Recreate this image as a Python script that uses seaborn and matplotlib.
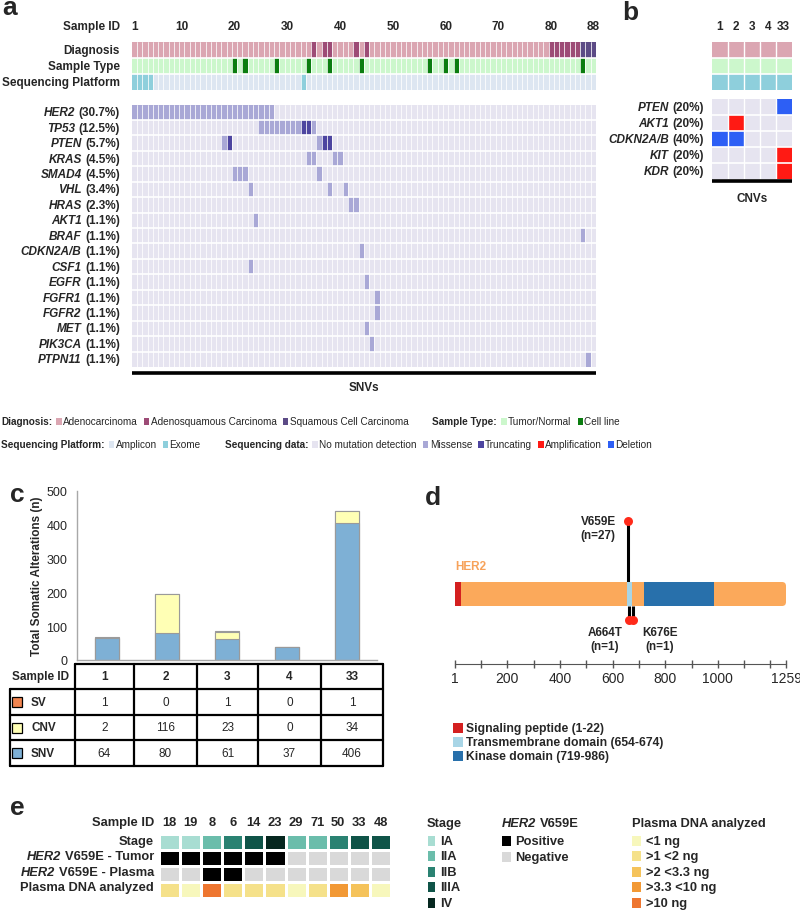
import numpy as np
import pandas as pd
import seaborn as sns
import matplotlib.pyplot as plt
from matplotlib.colors import ListedColormap
from matplotlib.patches import Rectangle, FancyBboxPatch

# ---------------- data: panel a (SNVs, 88 samples) ----------------
n_samples = 88
id_ticks = [1, 10, 20, 30, 40, 50, 60, 70, 80, 88]
adenosquamous = [35, 37, 38, 43, 45, 80, 81, 82, 83, 84, 85]
squamous = [86, 87, 88]
cell_line = [20, 22, 28, 34, 38, 44, 57, 60, 62, 86]
exome = [1, 2, 3, 4, 33]

snv_genes = ["HER2", "TP53", "PTEN", "KRAS", "SMAD4", "VHL", "HRAS", "AKT1", "BRAF",
             "CDKN2A/B", "CSF1", "EGFR", "FGFR1", "FGFR2", "MET", "PIK3CA", "PTPN11"]
snv_pct = ["30.7", "12.5", "5.7", "4.5", "4.5", "3.4", "2.3", "1.1", "1.1",
           "1.1", "1.1", "1.1", "1.1", "1.1", "1.1", "1.1", "1.1"]
snv_missense = [list(range(1, 28)), list(range(25, 33)) + [35], [18, 36], [34, 35, 39, 40],
                [20, 21, 22, 36], [23, 38, 41], [42, 43], [24], [86],
                [44], [23], [45], [47], [47], [45], [46], [87]]
snv_truncating = [[], [33, 34], [19, 37, 38], [], [], [], [], [], [],
                  [], [], [], [], [], [], [], []]

# ---------------- data: panel b (CNVs) ----------------
cnv_ids = ["1", "2", "3", "4", "33"]
cnv_genes = ["PTEN", "AKT1", "CDKN2A/B", "KIT", "KDR"]
cnv_pct = ["20", "20", "40", "20", "20"]
cnv_amplification = [[], ["2"], [], ["33"], ["33"]]
cnv_deletion = [["33"], [], ["1", "2"], [], []]

# ---------------- data: panel c ----------------
c_ids = ["1", "2", "3", "4", "33"]
sv_counts = [1, 0, 1, 0, 1]
cnv_counts = [2, 116, 23, 0, 34]
snv_counts = [64, 80, 61, 37, 406]

# ---------------- data: panel d ----------------
her2_length = 1259
domain_names = ["Signaling peptide", "Transmembrane domain", "Kinase domain"]
domain_start = [1, 654, 719]
domain_end = [22, 674, 986]
mut_names = ["V659E", "A664T", "K676E"]
mut_pos = [659, 664, 676]
mut_n = [27, 1, 1]
mut_side = ["up", "down", "down"]

# ---------------- data: panel e ----------------
e_ids = [18, 19, 8, 6, 14, 23, 29, 71, 50, 33, 48]
stage_levels = ["IA", "IIA", "IIB", "IIIA", "IV"]
e_stage = ["IA", "IA", "IIA", "IIB", "IIIA", "IV", "IIA", "IIA", "IIB", "IIIA", "IIIA"]
e_tumor = [1, 1, 1, 1, 1, 1, 0, 0, 0, 0, 0]
e_plasma = [0, 0, 1, 1, 0, 0, 0, 0, 0, 0, 0]
dna_levels = ["<1 ng", ">1 <2 ng", ">2 <3.3 ng", ">3.3 <10 ng", ">10 ng"]
e_dna = [">1 <2 ng", "<1 ng", ">10 ng", ">1 <2 ng", ">1 <2 ng", ">1 <2 ng",
         "<1 ng", ">1 <2 ng", ">3.3 <10 ng", ">2 <3.3 ng", "<1 ng"]

# ---------------- colours ----------------
C_ADENO, C_ADSQ, C_SQ = "#dba6b2", "#9d4b76", "#5c4b86"
C_TUMOR, C_CELL = "#ccf7cc", "#0b7d10"
C_AMPLICON, C_EXOME = "#dde6f1", "#8ecfdc"
C_NOMUT, C_MISS, C_TRUNC = "#e6e4f0", "#a9a8d6", "#4d45a0"
C_AMP, C_DEL = "#ff1a14", "#2d5ff5"
a_colors = [C_ADENO, C_ADSQ, C_SQ, C_TUMOR, C_CELL, C_AMPLICON, C_EXOME,
            C_NOMUT, C_MISS, C_TRUNC, C_AMP, C_DEL]
a_cmap = ListedColormap(a_colors)

SV_C, CNV_C, SNV_C = "#f28550", "#ffffb5", "#7eb0d5"
D_ORANGE, D_LIGHT = "#fba95b", "#a8d5e6"
domain_colors = ["#d42020", D_LIGHT, "#2870ab"]
stage_colors = ["#a8ddd2", "#6bbdab", "#2a8272", "#0f5448", "#06271f"]
pos_neg_colors = ["#000000", "#d9d9d9"]
dna_colors = ["#f7f7bc", "#f5e18a", "#f5c35b", "#f29935", "#ee7630"]
e_cmap = ListedColormap(stage_colors + pos_neg_colors + dna_colors)

# ---------------- style ----------------
sns.set_style("white")
plt.rcParams["font.family"] = ["Liberation Sans", "DejaVu Sans"]

W, H = 800, 912
fig = plt.figure(figsize=(W / 100, H / 100), dpi=100)
renderer = fig.canvas.get_renderer()


def px_axes(x0, y0, x1, y1):
    return fig.add_axes([x0 / W, 1 - y1 / H, (x1 - x0) / W, (y1 - y0) / H])


ov = px_axes(0, 0, W, H)
ov.set_xlim(0, W)
ov.set_ylim(H, 0)
ov.axis("off")


def gene_label(x, y, gene, rest, size, ha="right"):
    if ha == "right":
        t = ov.text(x, y, rest, ha="right", va="center", fontsize=size, weight="bold")
        ov.annotate(gene, xy=(0, 0.5), xycoords=t, xytext=(-2.5, 0), textcoords="offset points",
                    ha="right", va="center", fontsize=size, weight="bold", style="italic")
    else:
        t = ov.text(x, y, gene, ha="left", va="center", fontsize=size, weight="bold", style="italic")
        ov.annotate(rest, xy=(1, 0.5), xycoords=t, xytext=(2.5, 0), textcoords="offset points",
                    ha="left", va="center", fontsize=size, weight="bold")


def heat(ax, mat, cmap, lw=0.8):
    sns.heatmap(mat, ax=ax, cmap=cmap, vmin=-0.5, vmax=11.5, cbar=False,
                linewidths=lw, linecolor="white", xticklabels=False, yticklabels=False)


def grid_gaps(ax, nrows, ncols, hw=1.2, vw=0.55):
    for r in range(1, nrows):
        ax.axhline(r, color="white", lw=hw)
    for c in range(1, ncols):
        ax.axvline(c, color="white", lw=vw)


# ================= panel a =================
header = np.zeros((3, n_samples))
header[1, :] = 3
header[2, :] = 5
for s in adenosquamous:
    header[0, s - 1] = 1
for s in squamous:
    header[0, s - 1] = 2
for s in cell_line:
    header[1, s - 1] = 4
for s in exome:
    header[2, s - 1] = 6
mut = np.full((len(snv_genes), n_samples), 7.0)
for i, (mis, tr) in enumerate(zip(snv_missense, snv_truncating)):
    for s in mis:
        mut[i, s - 1] = 8
    for s in tr:
        mut[i, s - 1] = 9

A_X0, A_X1 = 131.7, 596
ax_ah = px_axes(A_X0, 43, A_X1, 90.5)
heat(ax_ah, header, a_cmap, lw=0)
grid_gaps(ax_ah, 3, n_samples)
ax_ah.set_xticks(np.array(id_ticks) - 0.5)
ax_ah.set_xticklabels(id_ticks, fontsize=8.5, weight="bold")
ax_ah.tick_params(axis="x", length=0, pad=7, top=True, labeltop=True, bottom=False, labelbottom=False)
ov.text(120, 27, "Sample ID", ha="right", va="center", fontsize=8.5, weight="bold")
for i, lab in enumerate(["Diagnosis", "Sample Type", "Sequencing Platform"]):
    ov.text(120, 43 + (i + 0.5) * 47.5 / 3, lab, ha="right", va="center", fontsize=8.5, weight="bold")

ax_am = px_axes(A_X0, 105.5, A_X1, 368)
heat(ax_am, mut, a_cmap, lw=0)
grid_gaps(ax_am, len(snv_genes), n_samples)
row_h = (368 - 105.5) / len(snv_genes)
for i, (g, p) in enumerate(zip(snv_genes, snv_pct)):
    gene_label(120, 105.5 + (i + 0.5) * row_h, g, f"({p}%)", 8.5)
ov.plot([A_X0, A_X1], [374, 374], color="black", lw=2.6, solid_capstyle="butt")
ov.text((A_X0 + A_X1) / 2, 388, "SNVs", ha="center", va="center", fontsize=8.5, weight="bold")

# ================= panel b =================
b_header = np.zeros((3, len(cnv_ids)))
b_header[1, :] = 3
b_header[2, :] = 6
b_mut = np.full((len(cnv_genes), len(cnv_ids)), 7.0)
for i in range(len(cnv_genes)):
    for s in cnv_amplification[i]:
        b_mut[i, cnv_ids.index(s)] = 10
    for s in cnv_deletion[i]:
        b_mut[i, cnv_ids.index(s)] = 11

B_X0, B_X1 = 711.7, 791.7
ax_bh = px_axes(B_X0, 43, B_X1, 90.5)
heat(ax_bh, b_header, a_cmap, lw=0)
grid_gaps(ax_bh, 3, len(cnv_ids), hw=1.2, vw=1.0)
ax_bh.set_xticks(np.arange(len(cnv_ids)) + 0.5)
ax_bh.set_xticklabels(cnv_ids, fontsize=8.5, weight="bold")
ax_bh.tick_params(axis="x", length=0, pad=7, top=True, labeltop=True, bottom=False, labelbottom=False)

ax_bm = px_axes(B_X0, 100, B_X1, 180)
heat(ax_bm, b_mut, a_cmap, lw=0)
grid_gaps(ax_bm, len(cnv_genes), len(cnv_ids), hw=1.2, vw=1.0)
for i, (g, p) in enumerate(zip(cnv_genes, cnv_pct)):
    gene_label(704, 100 + (i + 0.5) * 16, g, f"({p}%)", 8.5)
ov.plot([B_X0, B_X1], [182, 182], color="black", lw=2.6, solid_capstyle="butt")
ov.text((B_X0 + B_X1) / 2, 199, "CNVs", ha="center", va="center", fontsize=8.5, weight="bold")

# legend of a/b, laid out from measured text widths
LEG = 7.2


def leg_row(y, x, groups, group_gap=18):
    for title, items in groups:
        t = ov.text(x, y, title, ha="left", va="center", fontsize=LEG, weight="bold")
        x += t.get_window_extent(renderer).width + 4
        for label, color in items:
            ov.add_patch(Rectangle((x, y - 3.5), 5.5, 7, facecolor=color, edgecolor="none"))
            t = ov.text(x + 7, y, label, ha="left", va="center", fontsize=LEG)
            x += 7 + t.get_window_extent(renderer).width + 6
        x += group_gap


leg_row(422, 1, [("Diagnosis:", [("Adenocarcinoma", C_ADENO), ("Adenosquamous Carcinoma", C_ADSQ),
                                 ("Squamous Cell Carcinoma", C_SQ)]),
                 ("Sample Type:", [("Tumor/Normal", C_TUMOR), ("Cell line", C_CELL)])])
leg_row(445, 1, [("Sequencing Platform:", [("Amplicon", C_AMPLICON), ("Exome", C_EXOME)]),
                 ("Sequencing data:", [("No mutation detection", C_NOMUT), ("Missense", C_MISS),
                                       ("Truncating", C_TRUNC), ("Amplification", C_AMP),
                                       ("Deletion", C_DEL)])])

# ================= panel c =================
total = [a + b + c for a, b, c in zip(sv_counts, cnv_counts, snv_counts)]
cnv_snv = [b + c for b, c in zip(cnv_counts, snv_counts)]
axc = px_axes(77, 492, 377, 661)
for vals, col in [(total, SV_C), (cnv_snv, CNV_C), (snv_counts, SNV_C)]:
    sns.barplot(x=c_ids, y=vals, color=col, saturation=1, width=0.4, errorbar=None,
                edgecolor="#9a9a9a", linewidth=0.8, ax=axc)
axc.set_ylim(0, 500)
axc.set_xlim(-0.5, 4.5)
axc.set_yticks(range(0, 501, 100))
axc.set_xticks([])
axc.tick_params(axis="y", length=0, labelsize=9, pad=7)
axc.set_ylabel("Total Somatic Alterations (n)", fontsize=8.5, weight="bold")
axc.yaxis.set_label_coords(-0.113, 0.5)
sns.despine(ax=axc)
for sp in ["left", "bottom"]:
    axc.spines[sp].set_color("#a8a8a8")
    axc.spines[sp].set_linewidth(1)

col_edges = [75, 134, 197, 258, 321, 383]
row_edges = [665, 690, 716, 741, 767]
lw_t = 1.6
ov.plot([col_edges[0], col_edges[-1]], [row_edges[0]] * 2, color="black", lw=lw_t)
for y in row_edges[1:]:
    ov.plot([10, col_edges[-1]], [y, y], color="black", lw=lw_t)
for x in col_edges:
    ov.plot([x, x], [row_edges[0], row_edges[-1]], color="black", lw=lw_t)
ov.plot([10, 10], [row_edges[1], row_edges[-1]], color="black", lw=lw_t)
ov.text(12, (row_edges[0] + row_edges[1]) / 2, "Sample ID", ha="left", va="center", fontsize=8.5, weight="bold")
centers = [(a + b) / 2 for a, b in zip(col_edges[:-1], col_edges[1:])]
for cx, sid in zip(centers, c_ids):
    ov.text(cx, (row_edges[0] + row_edges[1]) / 2, sid, ha="center", va="center", fontsize=8.5, weight="bold")
for r, (name, vals, col) in enumerate([("SV", sv_counts, SV_C), ("CNV", cnv_counts, CNV_C),
                                       ("SNV", snv_counts, SNV_C)]):
    yc = (row_edges[r + 1] + row_edges[r + 2]) / 2
    ov.add_patch(Rectangle((12, yc - 5), 10, 10, facecolor=col, edgecolor="black", lw=0.9))
    ov.text(31, yc, name, ha="left", va="center", fontsize=8.5, weight="bold")
    for cx, v in zip(centers, vals):
        ov.text(cx, yc, str(v), ha="center", va="center", fontsize=8.5)

# ================= panel d =================
axd = px_axes(455, 500, 786, 680)
axd.set_xlim(1, her2_length)
axd.set_ylim(680, 500)
BAR_T, BAR_B = 583, 607
axd.add_patch(FancyBboxPatch((1, BAR_T), her2_length - 1, BAR_B - BAR_T,
                             boxstyle="round,pad=0,rounding_size=15", mutation_aspect=0.27,
                             facecolor=D_ORANGE, edgecolor="none", clip_on=False, zorder=2))
for s, e, col in zip(domain_start, domain_end, domain_colors):
    axd.add_patch(Rectangle((s, BAR_T), e - s, BAR_B - BAR_T, facecolor=col, edgecolor="none",
                            clip_on=False, zorder=3))
for name, pos, n, side in zip(mut_names, mut_pos, mut_n, mut_side):
    if side == "up":
        y_dot, y_base = 522, BAR_T
        off, ha = (-9, 4.5), "right"
    else:
        y_dot, y_base = 621, BAR_B
        off, ha = ((-5, -4.5), "right") if pos < 670 else ((7, -4.5), "left")
    axd.plot([pos, pos], [y_base, y_dot], color="black", lw=2.2, zorder=1, solid_capstyle="butt")
    axd.scatter([pos], [y_dot], s=42, color="#ff2a1a", zorder=4, linewidths=0)
    axd.annotate(f"{name}\n(n={n})", xy=(pos, y_dot), xytext=off, textcoords="offset points",
                 ha=ha, va="top", multialignment="center", fontsize=8.5, weight="bold")
axd.text(1, 567, "HER2", ha="left", va="center", fontsize=8.5, weight="bold", color="#f7a25a")
d_ticks = list(range(100, 1201, 100))
axd.set_xticks([1] + d_ticks + [her2_length])
axd.set_xticklabels(["1"] + [str(t) if (t % 200 == 0 and t <= 1000) else "" for t in d_ticks]
                    + [str(her2_length)], fontsize=8)
axd.set_yticks([])
for sp in ["top", "right", "left"]:
    axd.spines[sp].set_visible(False)
axd.spines["bottom"].set_position(("data", 665))
axd.spines["bottom"].set_color("#555555")
axd.tick_params(axis="x", direction="inout", length=6, width=1, color="#555555", pad=2, bottom=True)

for i, (name, s, e, col) in enumerate(zip(domain_names, domain_start, domain_end, domain_colors)):
    y = 729 + 14 * i
    ov.add_patch(Rectangle((453, y - 5), 10, 10, facecolor=col, edgecolor="none"))
    ov.text(466, y, f"{name} ({s}-{e})", ha="left", va="center", fontsize=8.7, weight="bold")

# ================= panel e =================
e_mat = np.array([
    [stage_levels.index(s) for s in e_stage],
    [5 if t else 6 for t in e_tumor],
    [5 if p else 6 for p in e_plasma],
    [7 + dna_levels.index(d) for d in e_dna],
], dtype=float)
axe = px_axes(159, 835, 391, 899)
heat(axe, e_mat, e_cmap)
axe.set_xticks(np.arange(len(e_ids)) + 0.5)
axe.set_xticklabels(e_ids, fontsize=9.3, weight="bold")
axe.tick_params(axis="x", length=0, pad=4, top=True, labeltop=True, bottom=False, labelbottom=False)
ov.text(154, 823.5, "Sample ID", ha="right", va="center", fontsize=9.3, weight="bold")
ov.text(154, 842, "Stage", ha="right", va="center", fontsize=9.3, weight="bold")
gene_label(154, 857.5, "HER2", "V659E - Tumor", 9.3)
gene_label(154, 873, "HER2", "V659E - Plasma", 9.3)
ov.text(154, 888.5, "Plasma DNA analyzed", ha="right", va="center", fontsize=9.3, weight="bold")

ov.text(427, 824, "Stage", ha="left", va="center", fontsize=9.3, weight="bold")
for i, (lab, col) in enumerate(zip(stage_levels, stage_colors)):
    y = 842 + 15.4 * i
    ov.add_patch(Rectangle((428, y - 5), 7, 10, facecolor=col, edgecolor="none"))
    ov.text(440, y, lab, ha="left", va="center", fontsize=9.3, weight="bold")
gene_label(502, 824, "HER2", "V659E", 9.3, ha="left")
for i, (lab, col) in enumerate(zip(["Positive", "Negative"], pos_neg_colors)):
    y = 842 + 16 * i
    ov.add_patch(Rectangle((502, y - 5), 8.5, 10, facecolor=col, edgecolor="none"))
    ov.text(515, y, lab, ha="left", va="center", fontsize=9.3, weight="bold")
ov.text(632, 824, "Plasma DNA analyzed", ha="left", va="center", fontsize=9.3, weight="bold")
for i, (lab, col) in enumerate(zip(dna_levels, dna_colors)):
    y = 842 + 15.5 * i
    ov.add_patch(Rectangle((632, y - 5), 8.5, 10, facecolor=col, edgecolor="none"))
    ov.text(646, y, lab, ha="left", va="center", fontsize=9.3, weight="bold")

# ================= panel letters =================
for x, y, letter in [(2, 15, "a"), (622, 20, "b"), (10, 502, "c"), (425, 505, "d"), (10, 815, "e")]:
    ov.text(x, y, letter, ha="left", va="baseline", fontsize=19, weight="bold")

fig.savefig("out.png", dpi=100)
